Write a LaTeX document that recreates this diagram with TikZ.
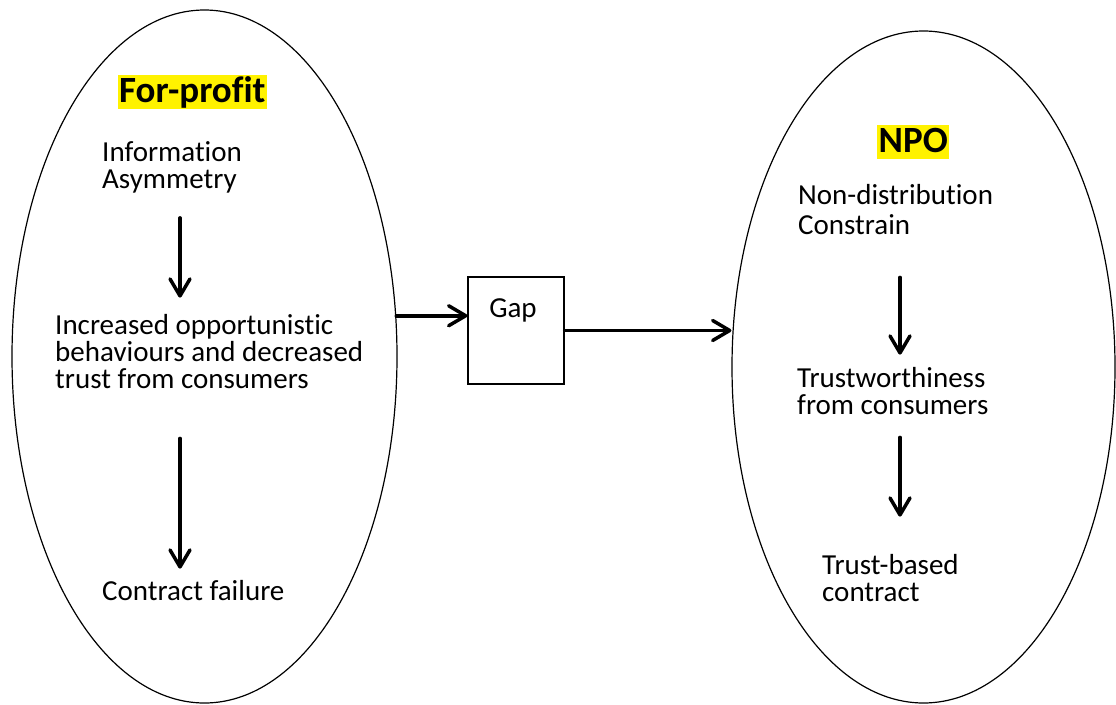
\documentclass[tikz,border=0pt]{standalone}
\usepackage{fontspec}
\setmainfont{Carlito}[Ligatures=NoCommon]
\usetikzlibrary{shapes.geometric,arrows.meta}
\begin{document}
\begin{tikzpicture}[x=1pt,y=-1pt,
  outline/.style={draw, line width=1.2pt, inner sep=0pt},
  flow/.style={line width=3.5pt, line cap=round,
    -{Straight Barb[length=17pt,width=20pt,line cap=round,line join=round]}},
  body/.style={anchor=base west, align=left, inner sep=0pt,
    font=\fontsize{29}{27}\selectfont},
  heading/.style={anchor=base west, inner xsep=1.5pt, inner ysep=0pt,
    fill=yellow, text height=27.5pt, text depth=6.5pt,
    font=\bfseries\fontsize{37}{40}\selectfont}]
\useasboundingbox (0,0) rectangle (1116,704);

% the two sectors
\node[outline, ellipse, minimum width=385pt, minimum height=693pt] (forprofit) at (204.5,356.5) {};
\node[outline, ellipse, minimum width=383pt, minimum height=672pt] (npo) at (923.5,367) {};

% headings
\node[heading] (fpTitle) at (117.5,102) {For-profit};
\node[heading] (npoTitle) at (877,152) {NPO};

% for-profit chain (base = baseline of the last line)
\node[body] (info) at (102,188) {Information\\Asymmetry};
\node[body] (opp) at (55,388) {Increased opportunistic\\behaviours and decreased\\trust from consumers};
\node[body] (fail) at (102,600) {Contract failure};

% NPO chain
\node[body, font=\fontsize{29}{30}\selectfont] (ndc) at (798,234) {Non-distribution\\Constrain};
\node[body] (trustw) at (797,414) {Trustworthiness\\from consumers};
\node[body] (tbc) at (822,601) {Trust-based\\contract};

% gap box
\node[outline, minimum width=96pt, minimum height=107pt] (gap) at (516,330.5) {};
\node[anchor=base, inner sep=0pt, font=\fontsize{29}{27}\selectfont] (gapLabel) at (513,317) {Gap};

% arrow columns
\coordinate (colL) at (180,0);
\coordinate (colR) at (900,0);

\draw[flow, shorten <=25pt, shorten >=16pt] (info.south -| colL) -- (opp.north -| colL);
\draw[flow, shorten <=50pt, shorten >=11pt] (opp.south -| colL) -- (fail.north -| colL);
\draw[flow, shorten <=43pt, shorten >=12pt] (ndc.south -| colR) -- (trustw.north -| colR);
\draw[flow, shorten <=23pt, shorten >=37pt] (trustw.south -| colR) -- (tbc.north -| colR);

\draw[flow] (forprofit.12) -- (gap.west |- forprofit.12);
\draw[flow] (gap.east) -- (gap.east -| npo.west);
\end{tikzpicture}
\end{document}
